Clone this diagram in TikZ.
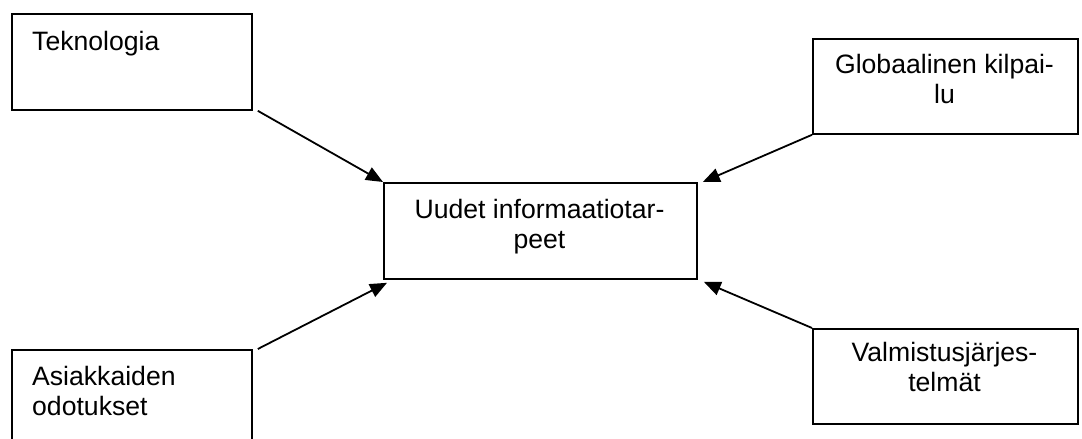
\documentclass[tikz,border=0pt]{standalone}
\usepackage{fontspec}
\setmainfont{Liberation Sans}
\usetikzlibrary{arrows.meta}
\begin{document}
\begin{tikzpicture}[x=1pt,y=-1pt,
  box/.style={draw, line width=1.8pt, inner sep=0pt, anchor=north west},
  txt/.style={inner sep=0pt, font=\fontsize{26.6}{30}\selectfont},
  link/.style={line width=1.8pt, -{Triangle[length=17pt,width=14pt]}}]
\useasboundingbox (0,0) rectangle (1082,439);

% boxes
\node[box, minimum width=240pt, minimum height=96pt] (tek) at (11,13) {};
\node[box, minimum width=265pt, minimum height=95pt] (glob) at (812,38) {};
\node[box, minimum width=313pt, minimum height=96pt] (uud) at (383,182) {};
\node[box, minimum width=240pt, minimum height=100pt] (asi) at (11,349) {};
\node[box, minimum width=265pt, minimum height=95pt] (val) at (812,328) {};

% texts (multi-line nodes sit on the baseline of their last line)
\node[txt, anchor=base west] (tek-t) at (32,50) {Teknologia};
\node[txt, anchor=base, align=center] (glob-t) at (944.5,103) {Globaalinen kilpai-\\lu};
\node[txt, anchor=base, align=center] (uud-t) at (539.5,248) {Uudet informaatiotar-\\peet};
\node[txt, anchor=base west, align=left] (asi-t) at (32,415) {Asiakkaiden\\odotukset};
\node[txt, anchor=base, align=center] (val-t) at (944.5,391) {Valmistusjärjes-\\telmät};

% connectors
\draw[link] ([xshift=5pt]tek.south east) -- (uud.north west);
\draw[link] (glob.south west) -- ([xshift=5pt]uud.north east);
\draw[link] ([xshift=5pt]asi.north east) -- ([xshift=4pt,yshift=-3pt]uud.south west);
\draw[link] (val.north west) -- ([xshift=6pt,yshift=-2pt]uud.south east);
\end{tikzpicture}
\end{document}
